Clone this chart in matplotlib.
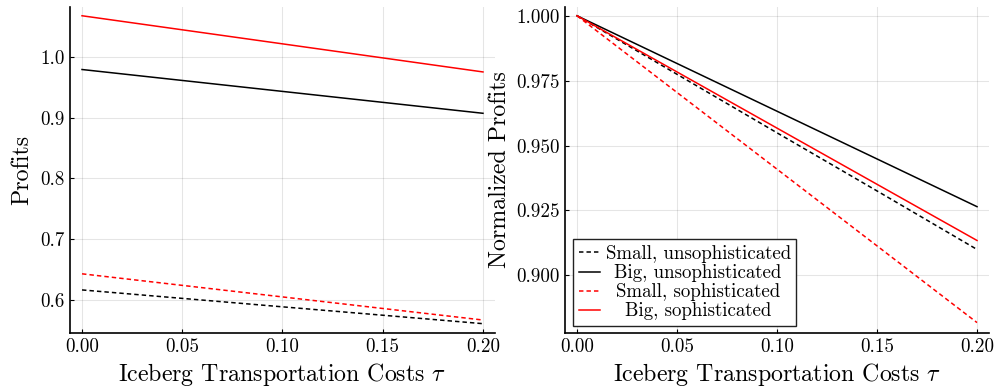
import numpy as np
import matplotlib
matplotlib.use("Agg")
import matplotlib.pyplot as plt

plt.rcParams['font.family'] = ['cmr10']
plt.rcParams['mathtext.fontset'] = 'cm'
plt.rcParams['axes.formatter.use_mathtext'] = True

tau = [0.0, 0.05, 0.10, 0.15, 0.20]
small_unsoph = [0.6165, 0.6026, 0.5887, 0.5749, 0.5610]
big_unsoph = [0.9790, 0.9610, 0.9430, 0.9250, 0.9070]
small_soph = [0.6430, 0.6240, 0.6050, 0.5860, 0.5670]
big_soph = [1.0674, 1.0443, 1.0212, 0.9981, 0.9750]

series = [
    ("Small, unsophisticated", small_unsoph, "black", "--"),
    ("Big, unsophisticated", big_unsoph, "black", "-"),
    ("Small, sophisticated", small_soph, "red", "--"),
    ("Big, sophisticated", big_soph, "red", "-"),
]

fig = plt.figure(figsize=(9.97, 3.88), dpi=100)
ax1 = fig.add_axes([0.0702, 0.1418, 0.4263, 0.840])
ax2 = fig.add_axes([0.5667, 0.1418, 0.4253, 0.840])

for label, vals, color, ls in series:
    v = np.array(vals)
    kw = dict(color=color, lw=1.1)
    l1, = ax1.plot(tau, v, label=label, **kw)
    l2, = ax2.plot(tau, v / v[0], label=label, **kw)
    if ls == "--":
        l1.set_dashes([2.9, 2.0])
        l2.set_dashes([2.9, 2.0])

for ax in (ax1, ax2):
    ax.set_xlim(-0.006, 0.206)
    ax.set_xticks([0.0, 0.05, 0.10, 0.15, 0.20])
    ax.set_xticklabels(["0.00", "0.05", "0.10", "0.15", "0.20"])
    ax.grid(True, color='black', alpha=0.1, lw=0.8)
    ax.spines['top'].set_visible(False)
    ax.spines['right'].set_visible(False)
    for s in ('left', 'bottom'):
        ax.spines[s].set_linewidth(1.2)
    ax.tick_params(direction='in', length=3, width=0.8, labelsize=13.7, pad=3.6)
    ax.set_xlabel(r"Iceberg Transportation Costs $\tau$", fontsize=17.2, labelpad=3.5)

ax1.set_ylim(0.5457, 1.0817)
ax1.set_yticks([0.6, 0.7, 0.8, 0.9, 1.0])
ax1.set_yticklabels(["0.6", "0.7", "0.8", "0.9", "1.0"])
ax1.set_ylabel("Profits", fontsize=17.2, labelpad=5)

ax2.set_ylim(0.8778, 1.00335)
ax2.set_yticks([0.900, 0.925, 0.950, 0.975, 1.000])
ax2.set_yticklabels(["0.900", "0.925", "0.950", "0.975", "1.000"])
ax2.set_ylabel("Normalized Profits", fontsize=17.2, labelpad=4)

leg = ax2.legend(loc='lower left', bbox_to_anchor=(0.019, 0.021), borderaxespad=0,
                 fontsize=13.6, handlelength=1.1, handletextpad=0.32,
                 labelspacing=0.06, borderpad=0.3, fancybox=False, framealpha=1,
                 edgecolor='#222222')
leg.get_frame().set_linewidth(1.0)

fig.canvas.draw()
r = fig.canvas.get_renderer()
widths = [t.get_window_extent(r).width for t in leg.get_texts()]
W = max(widths)
for t, w in zip(leg.get_texts(), widths):
    t.set_x((W - w) / 2)

fig.savefig("out.png", dpi=100)
